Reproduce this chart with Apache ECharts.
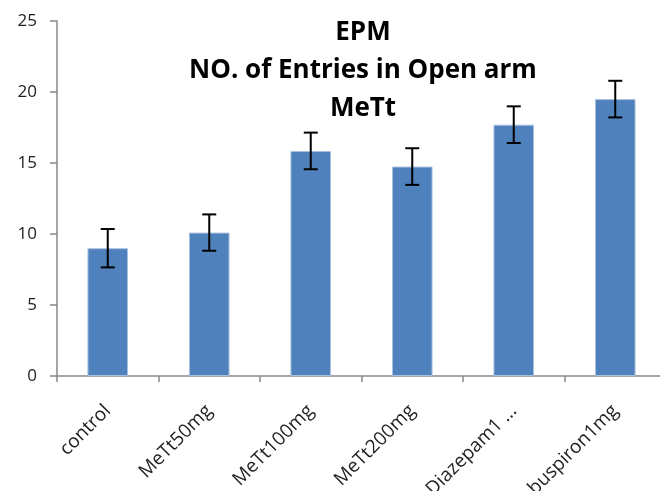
<!DOCTYPE html>
<html>
<head>
<meta charset="utf-8">
<script src="https://cdn.jsdelivr.net/npm/echarts@6/dist/echarts.min.js"></script>
<style>
  html, body { margin: 0; padding: 0; background: #fff; }
  #chart { width: 660px; height: 491px; }
</style>
</head>
<body>
<div id="chart"></div>
<script>
// 组别
var groups = ['control', 'MeTt50mg', 'MeTt100mg', 'MeTt200mg', 'Diazepam1 ...', 'buspiron1mg'];
// 进入开放臂次数（均值）
var entries = [9.0, 10.1, 15.85, 14.75, 17.7, 19.5];
// 误差（±）
var errors = [1.35, 1.28, 1.29, 1.29, 1.29, 1.29];
// y轴刻度
var yMin = 0, yMax = 25, yStep = 5;

var chart = echarts.init(document.getElementById('chart'));

var option = {
  animation: false,
  backgroundColor: '#fff',
  title: {
    text: 'EPM\nNO. of Entries in Open arm\nMeTt',
    left: 358,
    top: 9,
    textAlign: 'center',
    textStyle: {
      fontFamily: 'Open Sans',
      fontWeight: 'bold',
      fontSize: 26,
      lineHeight: 38,
      color: '#000'
    }
  },
  grid: {
    left: 57,
    width: 609,
    top: 21,
    bottom: 115,
    outerBoundsMode: 'none'
  },
  xAxis: {
    type: 'category',
    data: groups,
    axisLine: { lineStyle: { color: '#888', width: 1.5 } },
    axisTick: { show: true, length: 6, lineStyle: { color: '#888', width: 1.5 } },
    axisLabel: {
      rotate: 45,
      margin: 32,
      interval: 0,
      fontFamily: 'Open Sans',
      fontSize: 19,
      color: '#222'
    }
  },
  yAxis: {
    type: 'value',
    min: yMin,
    max: yMax,
    interval: yStep,
    splitLine: { show: false },
    axisLine: { show: true, lineStyle: { color: '#888', width: 1.5 } },
    axisTick: { show: true, length: 7, lineStyle: { color: '#888', width: 1.5 } },
    axisLabel: {
      margin: 20,
      fontFamily: 'Open Sans',
      fontSize: 17,
      color: '#222'
    }
  },
  series: [
    {
      type: 'bar',
      data: entries,
      barWidth: '40%',
      itemStyle: {
        color: '#4f81bd',
        borderColor: '#a9c1df',
        borderWidth: 1
      }
    },
    {
      // 误差线
      type: 'custom',
      z: 10,
      data: entries.map(function (v, i) { return [i, v - errors[i], v + errors[i]]; }),
      renderItem: function (params, api) {
        var lo = api.coord([api.value(0), api.value(1)]);
        var hi = api.coord([api.value(0), api.value(2)]);
        var half = 7;
        var style = { stroke: '#000', lineWidth: 2 };
        return {
          type: 'group',
          children: [
            { type: 'line', shape: { x1: hi[0], y1: hi[1], x2: lo[0], y2: lo[1] }, style: style },
            { type: 'line', shape: { x1: hi[0] - half, y1: hi[1], x2: hi[0] + half, y2: hi[1] }, style: style },
            { type: 'line', shape: { x1: lo[0] - half, y1: lo[1], x2: lo[0] + half, y2: lo[1] }, style: style }
          ]
        };
      }
    }
  ]
};

chart.setOption(option);
</script>
</body>
</html>
